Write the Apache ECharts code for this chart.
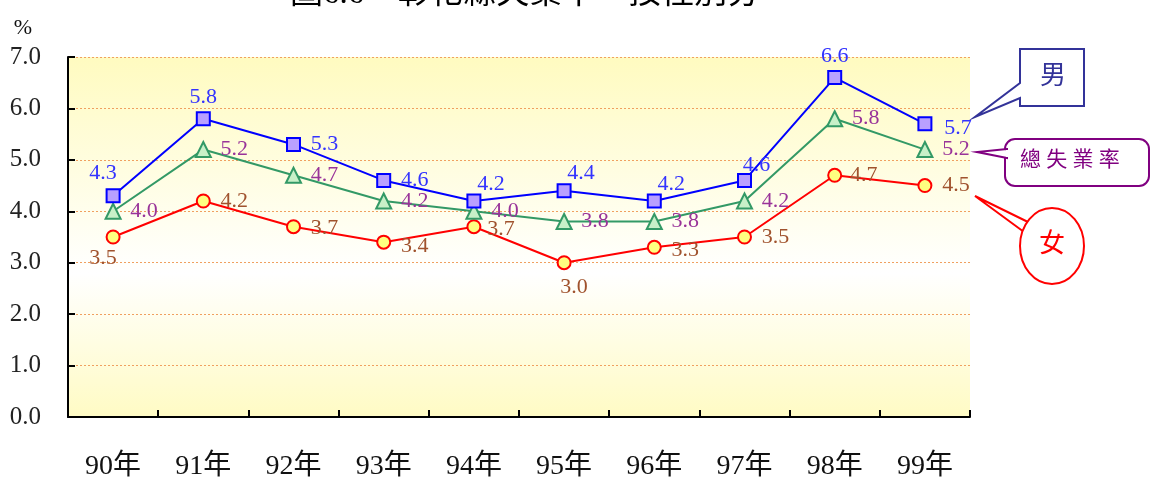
<!DOCTYPE html>
<html>
<head>
<meta charset="utf-8">
<script src="https://cdn.jsdelivr.net/npm/echarts@6/dist/echarts.min.js"></script>
<style>
  html, body { margin: 0; padding: 0; background: #fff; }
  #chart { width: 1155px; height: 481px; }
</style>
</head>
<body>
<div id="chart"></div>
<script>
// 彰化縣失業率 按性別分 (%)
var years = ['90年', '91年', '92年', '93年', '94年', '95年', '96年', '97年', '98年', '99年'];
var male = [4.3, 5.8, 5.3, 4.6, 4.2, 4.4, 4.2, 4.6, 6.6, 5.7];
var total = [4.0, 5.2, 4.7, 4.2, 4.0, 3.8, 3.8, 4.2, 5.8, 5.2];
var female = [3.5, 4.2, 3.7, 3.4, 3.7, 3.0, 3.3, 3.5, 4.7, 4.5];

// label offsets [dx, dy] per point (style only)
var maleOff = [[-10, -23], [0, -21], [31, 0], [31, 0], [17, -17], [17, -17], [17, -17], [12, -15], [0, -21], [33, 4]];
var totalOff = [[31, 0], [31, 0], [31, 0], [31, 0], [31, 0], [31, 0], [31, 0], [31, 0], [31, 0], [31, 0]];
var femaleOff = [[-10, 21], [31, 0], [31, 2], [31, 4], [27, 3], [10, 25], [31, 3], [31, 0], [29, 0], [31, 0]];

var serif = '"Liberation Serif", "Noto Sans CJK TC", serif';

function items(vals, off, color) {
  return vals.map(function (v, i) {
    return {
      value: v,
      label: {
        show: true,
        position: 'inside',
        offset: off[i],
        color: color,
        fontSize: 22,
        fontFamily: serif,
        formatter: function (p) { return p.value.toFixed(1); }
      }
    };
  });
}

var chart = echarts.init(document.getElementById('chart'));
chart.setOption({
  animation: false,
  title: {
    text: '圖6.6　彰化縣失業率－按性別分',
    left: 285,
    top: -27,
    textStyle: { fontSize: 33, fontWeight: 'normal', fontFamily: serif, color: '#000' }
  },
  grid: {
    left: 68, right: 185, top: 57, bottom: 64,
    show: true,
    borderWidth: 0,
    backgroundColor: new echarts.graphic.LinearGradient(0, 0, 0, 1, [
      { offset: 0, color: '#fffbc0' },
      { offset: 0.6, color: '#ffffff' },
      { offset: 1, color: '#fffbc4' }
    ])
  },
  xAxis: {
    type: 'category',
    data: years,
    boundaryGap: true,
    axisLine: { lineStyle: { color: '#000', width: 2 } },
    axisTick: { show: true, inside: true, length: 7, lineStyle: { color: '#000', width: 2 } },
    axisLabel: { margin: 36, fontSize: 28, fontFamily: serif, color: '#111' }
  },
  yAxis: {
    type: 'value',
    min: 0, max: 7, interval: 1,
    name: '%',
    nameLocation: 'end',
    nameGap: 18,
    nameTextStyle: { fontSize: 22, fontFamily: serif, color: '#111', align: 'right', padding: [0, 36, 0, 0] },
    axisLine: { show: true, lineStyle: { color: '#000', width: 2 } },
    axisTick: { show: true, inside: true, length: 7, lineStyle: { color: '#000', width: 2 } },
    axisLabel: {
      margin: 27, fontSize: 25, fontFamily: serif, color: '#222',
      formatter: function (v) { return v.toFixed(1); }
    },
    splitLine: { show: true, lineStyle: { color: '#f0a060', type: [2, 2], width: 1 } }
  },
  series: [
    {
      name: '女', type: 'line', data: items(female, femaleOff, '#a0522d'), z: 3,
      symbol: 'circle', symbolSize: 13,
      lineStyle: { color: '#ff0000', width: 2 },
      itemStyle: { color: '#ffff80', borderColor: '#ff0000', borderWidth: 2 }
    },
    {
      name: '總失業率', type: 'line', data: items(total, totalOff, '#993399'), z: 4,
      symbol: 'triangle', symbolSize: 15,
      lineStyle: { color: '#339966', width: 2 },
      itemStyle: { color: '#c8f0c8', borderColor: '#339966', borderWidth: 2 }
    },
    {
      name: '男', type: 'line', data: items(male, maleOff, '#3333ff'), z: 5,
      symbol: 'rect', symbolSize: 13,
      lineStyle: { color: '#0000ff', width: 2 },
      itemStyle: { color: '#b9a0ff', borderColor: '#0000ff', borderWidth: 2 }
    }
  ],
  graphic: [
    // 男 callout
    {
      type: 'polygon',
      shape: { points: [[1020, 49], [1084, 49], [1084, 106], [1020, 106], [1020, 98], [975, 117], [1020, 83]] },
      style: { fill: '#fff', stroke: '#333399', lineWidth: 2 }
    },
    {
      type: 'text', left: 1040, top: 64,
      style: { text: '男', fontSize: 26, fontFamily: serif, fill: '#333399' }
    },
    // 總失業率 callout
    {
      type: 'rect',
      shape: { x: 1005, y: 139, width: 144, height: 47, r: 10 },
      style: { fill: '#fff', stroke: '#800080', lineWidth: 2 }
    },
    {
      type: 'polygon',
      shape: { points: [[1007, 149], [977, 152], [1007, 158]] },
      style: { fill: '#fff', stroke: '#800080', lineWidth: 2 }
    },
    {
      type: 'rect',
      shape: { x: 1006, y: 150, width: 4, height: 7 },
      style: { fill: '#fff' }
    },
    {
      type: 'text', left: 1020, top: 150,
      style: { text: '總 失 業 率', fontSize: 21, fontFamily: serif, fill: '#800080' }
    },
    // 女 callout
    {
      type: 'polygon',
      shape: { points: [[1028, 222], [975, 196], [1024, 232]] },
      style: { fill: '#fff', stroke: '#ff0000', lineWidth: 2 }
    },
    {
      type: 'ellipse',
      shape: { cx: 1052, cy: 246, rx: 32, ry: 38 },
      style: { fill: '#fff', stroke: '#ff0000', lineWidth: 2 }
    },
    {
      type: 'text', left: 1039, top: 232,
      style: { text: '女', fontSize: 26, fontFamily: serif, fill: '#ff0000' }
    }
  ]
});
</script>
</body>
</html>
